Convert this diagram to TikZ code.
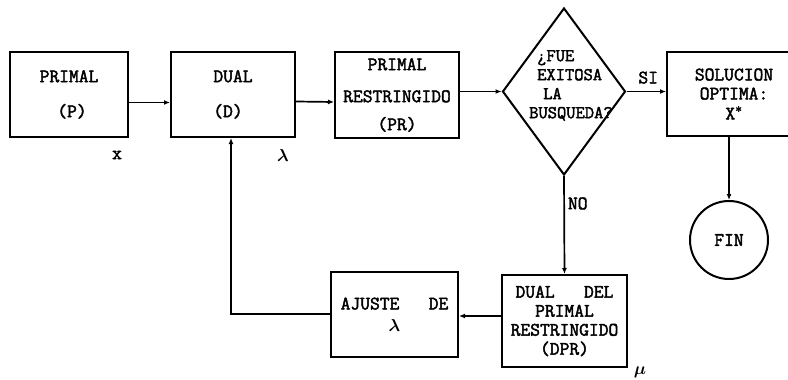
\documentclass[tikz,border=0pt]{standalone}
\usepackage{fontspec}
\newfontfamily\twb{Latin Modern Mono}[FakeBold=2.2]
\usetikzlibrary{shapes.geometric,arrows.meta}
\newcommand{\lam}{{\boldmath$\lambda$}}
\newcommand{\mmu}{{\boldmath$\mu$}}
\begin{document}
\begin{tikzpicture}[x=1pt,y=-1pt,
  every node/.style={font=\twb\fontsize{19}{20}\selectfont, text=black},
  blk/.style={draw, line width=2pt, rectangle, inner sep=0pt, align=center},
  conn/.style={line width=1.7pt, -{Latex[length=6pt,width=5pt]}},
  lbl/.style={inner sep=0pt}]
\clip (0,0) rectangle (788,380);
\fill[white] (0,0) rectangle (788,380);
% boxes
\node[blk, minimum width=118pt, minimum height=85pt] (P) at (69,94.5) {PRIMAL\\[15pt]\hspace*{6pt}(P)};
\node[blk, minimum width=124pt, minimum height=85pt] (D) at (233,94.5) {DUAL\\[15pt]\hspace*{-10pt}(D)};
\node[blk, minimum width=124pt, minimum height=86pt] (PR) at (397,95) {PRIMAL\\[12pt]RESTRINGIDO\\[8pt](PR)};
\node[draw, line width=2pt, diamond, inner sep=0pt, minimum width=123pt, minimum height=167pt] (dia) at (564,91.5) {};
\node[lbl, align=left, anchor=north west, font=\twb\fontsize{18}{19}\selectfont] (q) at (529,50) {\hspace*{8pt}¿FUE\\\hspace*{8pt}EXITOSA\\\hspace*{14pt}LA\\BUSQUEDA?};
\node[blk, minimum width=134pt, minimum height=84pt] (SOL) at (734,94) {SOLUCION\\[-1pt]OPTIMA:\\[0pt]X\textsuperscript{*}};
\node[draw, line width=2pt, circle, minimum size=78pt, inner sep=0pt] (fin) at (729,240) {FIN};
\node[blk, minimum width=125pt, minimum height=92pt] (DPR) at (564.5,321) {DUAL\ \ \ DEL\\[-1pt]PRIMAL\\[-1pt]RESTRINGIDO\\[-1pt](DPR)};
\node[blk, minimum width=127pt, minimum height=85pt] (AJ) at (394.5,314.5) {AJUSTE\ \ \ DE\\[2pt]\lam};
% labels
\node[lbl] (lx) at (117,155) {x};
\node[lbl] (llam) at (283,155) {\lam};
\node[lbl] (lmu) at (640,372) {\mmu};
% connectors
\draw[conn] ([yshift=-8pt]P.east) -- ([yshift=-8pt]D.west);
\draw[conn] ([yshift=-7pt]D.east) -- ([yshift=-7pt]PR.west);
\draw[conn] (PR.east |- dia.west) -- (dia.west);
\draw[conn] (dia.east) -- node[lbl, above=7pt, pos=0.55] (si) {SI} (dia.east -| SOL.west);
\draw[conn] (dia.south) -- node[lbl, right=3pt, pos=0.28] (no) {NO} (DPR.north);
\coordinate (c2) at (500,316);
\draw[conn] (DPR.west |- c2) -- (AJ.east |- c2);
\coordinate (c1) at (231,314);
\draw[conn] (AJ.west |- c1) -- (c1) -- (c1 |- D.south);
\draw[conn] (fin.north |- SOL.south) -- (fin.north);
\end{tikzpicture}
\end{document}
